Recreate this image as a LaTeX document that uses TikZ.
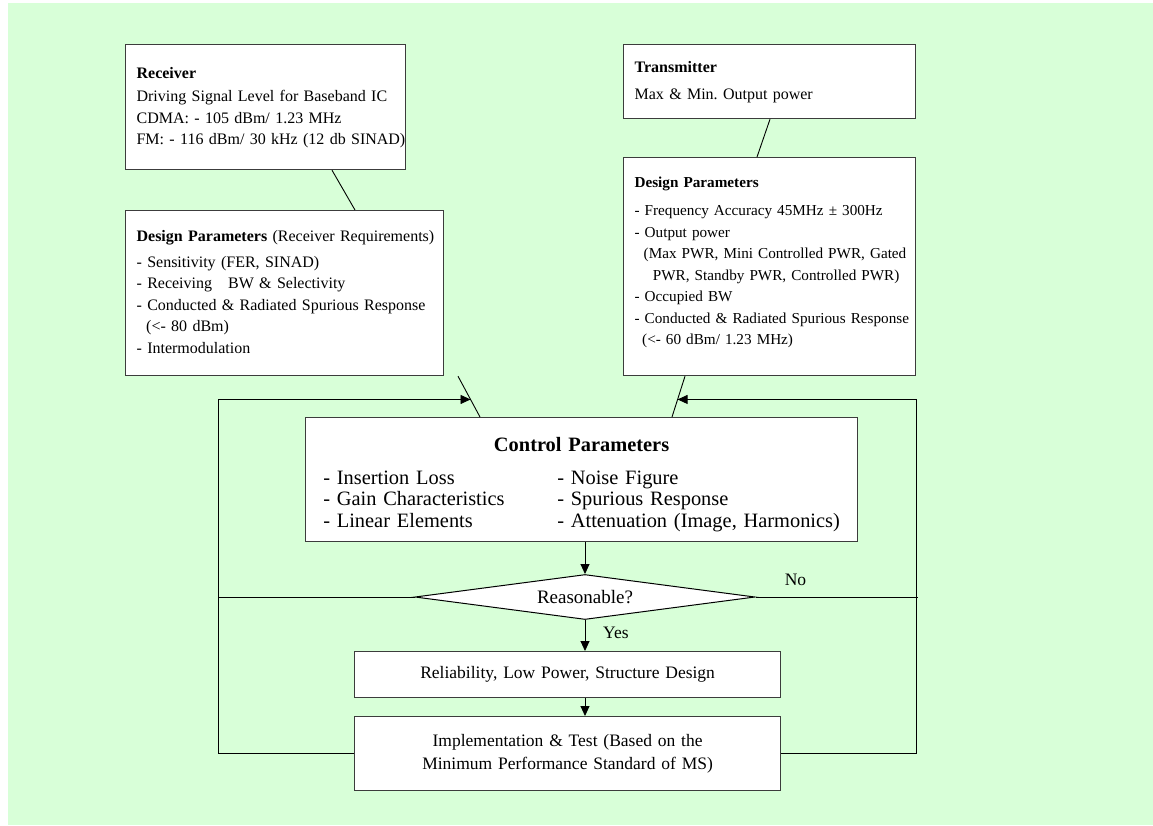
\documentclass[tikz,border=0pt]{standalone}
\usepackage{fontspec}
\setmainfont{Liberation Serif}
\usetikzlibrary{shapes.geometric,arrows.meta}
\definecolor{bggreen}{RGB}{216,255,216}
\definecolor{edge}{RGB}{60,60,60}
\frenchspacing
\tikzset{
  blk/.style={draw=edge, fill=white, line width=1.2pt, anchor=north west, inner xsep=11pt, inner ysep=0pt, align=left, font=\fontsize{16}{21.5}\selectfont},
  midblk/.style={blk, align=center, font=\fontsize{17.5}{22.5}\selectfont},
  decision/.style={diamond, aspect=7.5, draw=black, fill=white, line width=1pt, inner sep=0pt, minimum width=340pt, minimum height=45pt, font=\fontsize{19}{21.5}\selectfont},
  lbl/.style={inner sep=0pt, font=\fontsize{17.5}{21.5}\selectfont},
  link/.style={line width=0.9pt},
  arr/.style={link, -{Triangle[length=10pt,width=9pt]}}
}
\begin{document}
\begin{tikzpicture}[x=1pt, y=-1pt]
\useasboundingbox (0,0) rectangle (1153,825);
\fill[bggreen] (8,3) rectangle (1153,825);

\node[blk, text width=258pt, minimum height=125pt] (rx) at (125,44) {\begin{tabular}{@{}l@{}}
\textbf{Receiver}\\[2pt]
Driving Signal Level for Baseband IC\\
CDMA: - 105 dBm/ 1.23 MHz\\
FM: - 116 dBm/ 30 kHz (12 db SINAD)\end{tabular}};
\node[blk, text width=270pt, minimum height=74pt] (tx) at (623,44) {\begin{tabular}{@{}l@{}}
\textbf{Transmitter}\\[5pt]
Max \& Min. Output power\end{tabular}};
\node[blk, text width=296pt, minimum height=165pt] (ldes) at (125,210) {\begin{tabular}{@{}l@{}}
\textbf{Design Parameters} (Receiver Requirements)\\[4pt]
- Sensitivity (FER, SINAD)\\
- Receiving\quad BW \& Selectivity\\
- Conducted \& Radiated Spurious Response\\
\hspace*{0.6em}(<- 80 dBm)\\
- Intermodulation\end{tabular}};
\node[blk, text width=270pt, minimum height=218pt, font=\fontsize{15.2}{21.5}\selectfont] (rdes) at (623,157) {\raisebox{5pt}[\height][\depth]{\begin{tabular}{@{}l@{}}
\textbf{Design Parameters}\\[7pt]
- Frequency Accuracy 45MHz ± 300Hz\\
- Output power\\
\hspace*{0.6em}(Max PWR, Mini Controlled PWR, Gated\\
\hspace*{1.2em}PWR, Standby PWR, Controlled PWR)\\
- Occupied BW\\
- Conducted \& Radiated Spurious Response\\
\hspace*{0.5em}(<- 60 dBm/ 1.23 MHz)\end{tabular}}};

\node[midblk, text width=530pt, minimum height=124pt, font=\fontsize{20.4}{21.5}\selectfont] (ctrl) at (305,417) {\raisebox{-5.5pt}[\height][\depth]{\begin{tabular}{@{}c@{}}
\textbf{Control Parameters}\\[11pt]
\begin{tabular}[t]{@{}p{234pt}@{}l@{}}
- Insertion Loss & - Noise Figure\\
- Gain Characteristics & - Spurious Response\\
- Linear Elements & - Attenuation (Image, Harmonics)
\end{tabular}\end{tabular}}};
\node[decision] (dec) at (585,597) {Reasonable?};
\node[midblk, text width=404pt, minimum height=46pt] (rel) at (354,651) {Reliability, Low Power, Structure Design};
\node[midblk, text width=404pt, minimum height=74pt] (impl) at (354,716) {Implementation \& Test (Based on the\\
Minimum Performance Standard of MS)};
\node[lbl] (nolbl) at ([shift={(40,-17)}]dec.east) {No};
\node[lbl, anchor=west] (yeslbl) at ([shift={(18,13)}]dec.south) {Yes};

\coordinate (lft) at (218,0);
\coordinate (rgt) at (916,0);
\draw[link] ([xshift=207pt]rx.south west) -- ([xshift=230pt]ldes.north west);
\draw[link] ([xshift=147pt]tx.south west) -- ([xshift=134pt]rdes.north west);
\draw[link] ([xshift=333pt]ldes.south west) -- coordinate[pos=.57] (lhit) ([xshift=175pt]ctrl.north west);
\draw[link] ([xshift=62pt]rdes.south west) -- coordinate[pos=.57] (rhit) ([xshift=367pt]ctrl.north west);
\draw[arr] (impl.west) -- (impl.west -| lft) |- (lhit);
\draw[arr] (impl.east) -- (impl.east -| rgt) |- (rhit);
\draw[link] (dec.west) -- (dec.west -| lft);
\draw[link] (dec.east) -- ([xshift=2pt]dec.east -| rgt);
\draw[arr] (dec.north |- ctrl.south) -- (dec.north);
\draw[arr] (dec.south) -- (dec.south |- rel.north);
\draw[arr] (dec.south |- rel.south) -- (dec.south |- impl.north);
\end{tikzpicture}
\end{document}
